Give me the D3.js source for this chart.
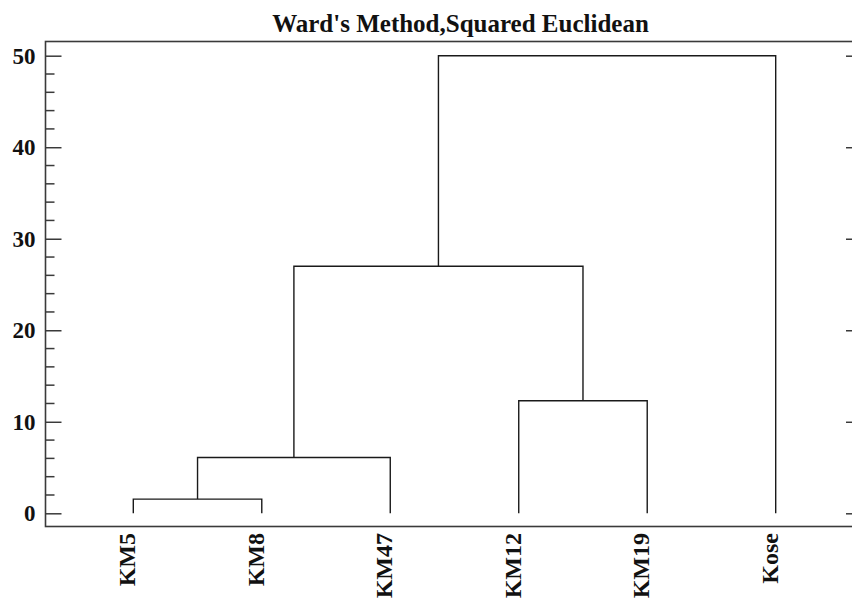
<!DOCTYPE html>
<html>
<head>
<meta charset="utf-8">
<script src="https://cdn.jsdelivr.net/npm/d3@7"></script>
<style>
  html, body { margin: 0; padding: 0; background: #fff; }
  svg { display: block; }
</style>
</head>
<body>
<svg id="chart" width="852" height="601"></svg>
<script>
// ---- data ----
const title = "Ward's Method,Squared Euclidean";
const leaves = ["KM5", "KM8", "KM47", "KM12", "KM19", "Kose"];
// linkage (scipy-style): ids >= leaves.length refer to earlier merges
const mergeLeft   = [0, 6, 3, 7, 9];
const mergeRight  = [1, 2, 4, 8, 5];
const mergeHeight = [1.55, 6.1, 12.3, 27.0, 50.0];
const majorTicks = [0, 10, 20, 30, 40, 50];
const minorTicks = [2, 4, 6, 8, 12, 14, 16, 18, 22, 24, 26, 28, 32, 34, 36, 38, 42, 44, 46, 48];

// ---- layout ----
const W = 852, H = 601;
const frame = { left: 45.5, right: 862, top: 41.5, bottom: 526.5 };
const svg = d3.select("#chart");

const x = d3.scaleLinear().domain([0, leaves.length - 1]).range([133.3, 775.7]);
const y = d3.scaleLinear().domain([0, 50]).range([513.3, 55.7]);

const serif = "'Liberation Serif','Times New Roman',serif";

// frame
svg.append("rect")
  .attr("x", frame.left).attr("y", frame.top)
  .attr("width", frame.right - frame.left).attr("height", frame.bottom - frame.top)
  .attr("fill", "none").attr("stroke", "#3a3a3a").attr("stroke-width", 1.6);

// title
svg.append("text")
  .attr("x", 460.5).attr("y", 32)
  .attr("text-anchor", "middle")
  .attr("font-family", serif).attr("font-weight", "bold").attr("font-size", 25)
  .attr("fill", "#111")
  .text(title);

// left axis (major, inward ticks)
const yAxis = d3.axisLeft(y).tickValues(majorTicks).tickSizeInner(-16).tickSizeOuter(0).tickPadding(10);
const gy = svg.append("g").attr("transform", `translate(${frame.left},0)`).call(yAxis);
gy.select(".domain").remove();
gy.selectAll(".tick line").attr("stroke", "#3a3a3a").attr("stroke-width", 1.5);
gy.selectAll(".tick text")
  .attr("font-family", serif).attr("font-weight", "bold").attr("font-size", 23)
  .attr("fill", "#111");

// left minor ticks
svg.append("g").selectAll("line").data(minorTicks).join("line")
  .attr("x1", frame.left).attr("x2", frame.left + 9)
  .attr("y1", d => y(d)).attr("y2", d => y(d))
  .attr("stroke", "#3a3a3a").attr("stroke-width", 1.5);

// right axis ticks (inward)
const yAxisR = d3.axisRight(y).tickValues(majorTicks).tickSizeInner(-16).tickSizeOuter(0).tickFormat("");
const gyr = svg.append("g").attr("transform", `translate(${frame.right},0)`).call(yAxisR);
gyr.select(".domain").remove();
gyr.selectAll(".tick line").attr("stroke", "#3a3a3a").attr("stroke-width", 1.5);
svg.append("g").selectAll("line").data(minorTicks).join("line")
  .attr("x1", frame.right).attr("x2", frame.right - 9)
  .attr("y1", d => y(d)).attr("y2", d => y(d))
  .attr("stroke", "#3a3a3a").attr("stroke-width", 1.5);

// compute node positions
const nodeX = leaves.map((_, i) => x(i));
const nodeH = leaves.map(() => 0);
const links = [];
mergeLeft.forEach((a, k) => {
  const b = mergeRight[k];
  const h = mergeHeight[k];
  links.push({ xa: nodeX[a], ha: nodeH[a], xb: nodeX[b], hb: nodeH[b], h });
  nodeX.push((nodeX[a] + nodeX[b]) / 2);
  nodeH.push(h);
});

svg.append("g").selectAll("path").data(links).join("path")
  .attr("d", d => `M${d.xa},${y(d.ha)}V${y(d.h)}H${d.xb}V${y(d.hb)}`)
  .attr("fill", "none").attr("stroke", "#1a1a1a").attr("stroke-width", 1.4);

// leaf labels (rotated)
svg.append("g").selectAll("text").data(leaves).join("text")
  .attr("transform", (d, i) => `translate(${x(i) + 2},533) rotate(-90)`)
  .attr("text-anchor", "end")
  .attr("font-family", serif).attr("font-weight", "bold").attr("font-size", 24)
  .attr("fill", "#111")
  .text(d => d);
</script>
</body>
</html>
